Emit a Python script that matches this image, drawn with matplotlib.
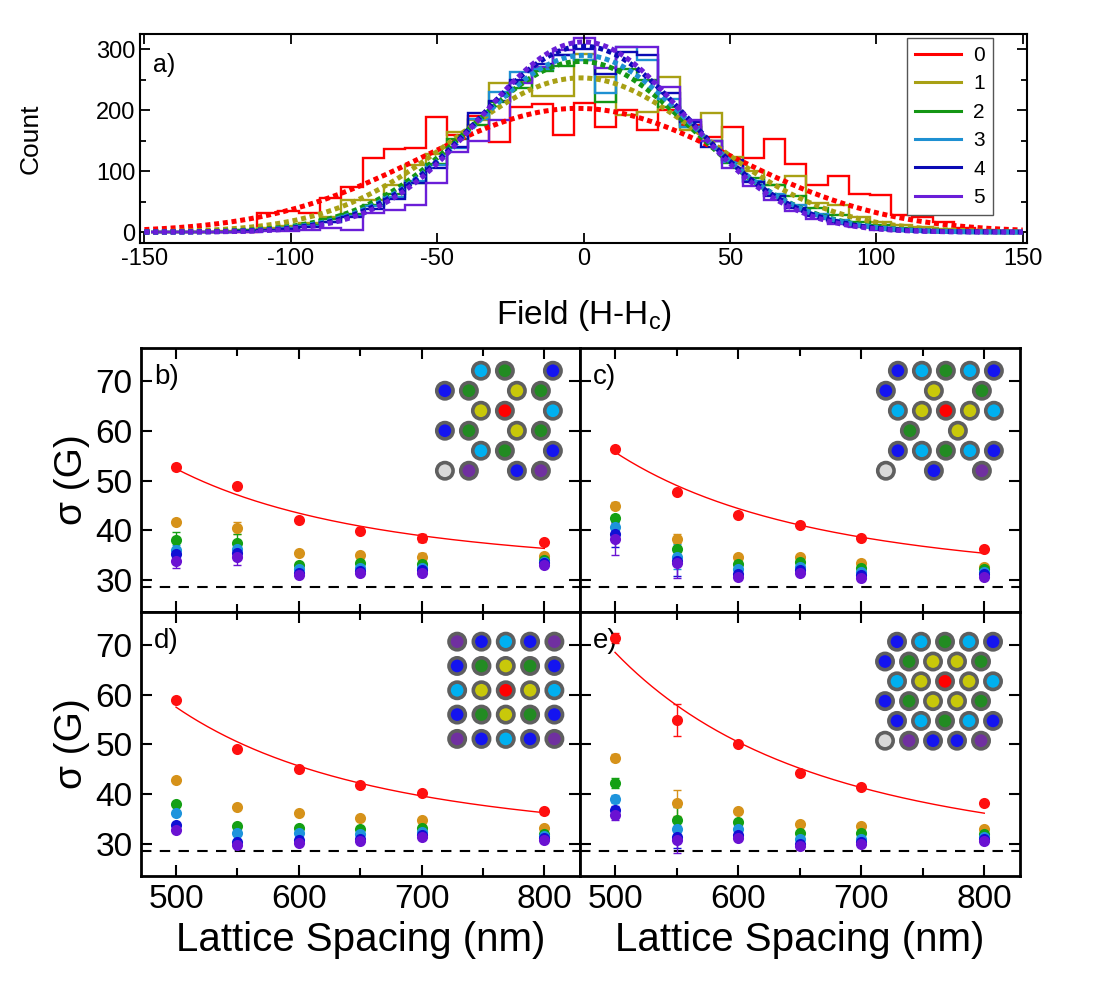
import numpy as np
import matplotlib
matplotlib.use("Agg")
import matplotlib.pyplot as plt
from matplotlib.lines import Line2D

plt.rcParams["font.family"] = ["Liberation Sans", "DejaVu Sans"]
plt.rcParams["mathtext.default"] = "regular"
plt.rcParams["axes.unicode_minus"] = False

# ---------------- panel a: field distributions ----------------
edges = np.linspace(-147.7, 148.3, 42)
counts = [
    [0, 0, 0, 0, 0, 31, 34, 31, 56, 74, 121, 136, 138, 189, 159, 190, 148, 205, 210, 160, 212,
     172, 201, 168, 200, 175, 156, 172, 121, 152, 111, 77, 92, 62, 61, 28, 24, 17, 6, 3, 2],
    [0, 0, 0, 2, 4, 6, 10, 15, 25, 52, 52, 78, 110, 128, 164, 184, 244, 246, 224, 224, 293,
     255, 192, 197, 255, 168, 195, 124, 100, 77, 92, 47, 45, 25, 17, 12, 8, 5, 2, 1, 0],
    [0, 0, 0, 0, 3, 4, 7, 12, 22, 30, 44, 62, 80, 112, 152, 176, 214, 236, 265, 272, 282,
     214, 268, 250, 205, 172, 150, 114, 88, 78, 60, 40, 28, 17, 12, 7, 4, 2, 1, 0, 0],
    [0, 0, 0, 0, 2, 3, 6, 10, 17, 26, 42, 58, 84, 110, 138, 185, 230, 262, 268, 290, 283,
     228, 304, 282, 218, 172, 150, 115, 84, 62, 44, 30, 20, 12, 7, 4, 2, 1, 0, 0, 0],
    [0, 0, 0, 0, 1, 3, 5, 9, 16, 24, 38, 55, 80, 105, 140, 195, 215, 250, 275, 290, 300,
     260, 295, 290, 228, 180, 140, 118, 82, 60, 40, 26, 16, 10, 6, 3, 2, 1, 0, 0, 0],
    [0, 0, 0, 0, 0, 1, 2, 4, 6, 3, 31, 36, 44, 80, 132, 150, 184, 245, 271, 298, 318,
     270, 304, 304, 238, 184, 150, 105, 75, 52, 35, 22, 14, 8, 4, 2, 1, 0, 0, 0, 0],
]
fit_amp = [203, 253, 280, 290, 305, 312]
fit_mu = [-2, -1, -1, 0, 0, 0]
fit_sig = [53, 43, 38, 37, 36, 35]
hist_labels = ["0", "1", "2", "3", "4", "5"]
hist_colors = ["#ff0000", "#a8a014", "#149614", "#1e90d2", "#0a0ab4", "#6a1ed8"]

# ---------------- panels b-e: sigma vs lattice spacing ----------------
spacing = [500, 550, 600, 650, 700, 800]
pt_colors = ["#ff0f0f", "#d6921a", "#14a014", "#1e94dc", "#1010d4", "#6a12d2"]

sig_b = [[52.7, 48.9, 42.1, 39.9, 38.5, 37.7],
         [41.7, 40.5, 35.4, 35.0, 34.7, 34.9],
         [38.1, 37.5, 33.0, 33.5, 33.2, 34.1],
         [36.1, 36.2, 32.2, 32.5, 32.5, 33.7],
         [35.2, 35.5, 31.5, 31.9, 32.1, 33.4],
         [33.9, 34.7, 31.0, 31.4, 31.4, 33.1]]
err_b = [[0.6, 0.3, 0.3, 0.3, 0.8, 0.3],
         [0.5, 1.2, 0.3, 0.3, 0.8, 0.3],
         [1.6, 1.7, 0.5, 0.5, 0.5, 0.3],
         [1.0, 1.0, 0.4, 0.4, 0.5, 0.3],
         [1.2, 1.2, 0.4, 0.4, 0.5, 0.3],
         [1.5, 1.6, 0.4, 0.4, 0.5, 0.3]]

sig_c = [[56.3, 47.7, 43.1, 41.0, 38.5, 36.2],
         [44.9, 38.3, 34.7, 34.7, 33.5, 32.7],
         [42.5, 36.3, 33.3, 33.7, 32.5, 32.2],
         [40.7, 34.7, 32.2, 32.7, 31.7, 31.7],
         [39.2, 33.9, 31.2, 32.1, 31.0, 31.2],
         [38.3, 33.5, 30.7, 31.5, 30.5, 30.7]]
err_c = [[0.3, 0.3, 0.3, 0.3, 0.3, 0.3],
         [0.7, 0.9, 0.3, 0.3, 0.6, 0.3],
         [0.6, 1.5, 0.3, 0.3, 0.3, 0.3],
         [1.5, 2.5, 0.4, 0.4, 0.4, 0.3],
         [2.5, 3.0, 0.4, 0.5, 0.4, 0.3],
         [3.2, 3.0, 0.4, 0.5, 0.4, 0.3]]

sig_d = [[58.9, 49.1, 45.0, 41.9, 40.2, 36.6],
         [42.9, 37.5, 36.3, 35.2, 34.9, 33.3],
         [38.1, 33.7, 33.2, 33.0, 33.2, 32.1],
         [36.2, 32.3, 32.3, 32.1, 32.5, 31.7],
         [33.8, 30.5, 30.9, 31.1, 31.8, 31.3],
         [32.9, 29.9, 30.3, 30.7, 31.4, 30.9]]
err_d = [[0.4, 0.3, 0.4, 0.3, 0.3, 0.5],
         [0.3, 0.3, 0.3, 0.3, 0.3, 0.3],
         [0.3, 0.3, 0.3, 0.3, 0.3, 0.3],
         [0.3, 0.3, 0.3, 0.3, 0.3, 0.3],
         [0.3, 0.3, 0.3, 0.3, 0.3, 0.3],
         [0.3, 0.3, 0.3, 0.3, 0.3, 0.3]]

sig_e = [[71.3, 55.0, 50.0, 44.3, 41.5, 38.3],
         [47.3, 38.2, 36.7, 34.1, 33.7, 33.0],
         [42.2, 34.9, 34.5, 32.2, 32.2, 32.0],
         [39.0, 33.0, 33.0, 31.1, 31.1, 31.5],
         [36.9, 31.5, 31.8, 30.1, 30.5, 31.1],
         [35.8, 30.9, 31.3, 29.7, 30.0, 30.6]]
err_e = [[1.0, 3.2, 0.4, 0.4, 0.4, 0.3],
         [0.7, 2.6, 0.3, 0.3, 0.3, 0.3],
         [1.0, 2.5, 0.3, 0.3, 0.3, 0.3],
         [0.8, 2.0, 0.3, 0.3, 0.3, 0.3],
         [0.8, 2.2, 0.3, 0.3, 0.3, 0.3],
         [1.0, 2.7, 0.3, 0.3, 0.3, 0.3]]

# fit sigma = a + b / d^3 for the nearest site
fit_a = [31.2, 28.84, 29.45, 25.77]
fit_b = [2.646e9, 3.357e9, 3.506e9, 5.341e9]
sigma0 = 28.6

# lattice sketches (one char per site; '.' = empty)
lat_b = ["...c.g...b", "b.g...y.g.", "...y.r...c", "b.g...y.g.", "...c.g...b", "w.p...b.p."]
lat_c = [".b.c.g.c.b", "b...y...g.", ".c.y.r.y.c", "..g...y...", ".b.c.g.c.b", "w...b...p."]
lat_d = ["pbcbp", "bgygb", "cyryc", "bgygb", "pbcbp"]
lat_e = [".b.c.g.c.b", "b.g.y.y.g.", ".c.y.r.y.c", "b.g.y.y.g.", ".b.c.g.c.b", "w.p.b.b.p."]
site_colors = {"r": "#ff0000", "y": "#c8c80a", "g": "#228b22", "c": "#00b0f0",
               "b": "#1414f0", "p": "#7030a0", "w": "#d9d9d9"}

fig = plt.figure(figsize=(11.14, 9.86), dpi=100)

# ---- top histogram panel ----
ax = fig.add_axes([0.1257, 0.7535, 0.7963, 0.212])
xf = np.linspace(-150, 150, 400)
for i in range(6):
    ax.stairs(counts[i], edges, color=hist_colors[i], lw=1.7)
for i in range(6):
    yf = fit_amp[i] * np.exp(-(xf - fit_mu[i]) ** 2 / (2 * fit_sig[i] ** 2))
    ax.plot(xf, yf, color=hist_colors[i], lw=3.6, dashes=(1, 0.75))
ax.set_xlim(-151.5, 151.5)
ax.set_ylim(-18, 325)
ax.set_xticks(np.arange(-150, 151, 50))
ax.set_yticks([0, 100, 200, 300])
ax.set_yticks([50, 150, 250], minor=True)
ax.tick_params(which="both", direction="in", top=True, right=True, width=1.3, labelsize=17)
ax.tick_params(which="major", length=7)
ax.tick_params(which="minor", length=4)
for s in ax.spines.values():
    s.set_linewidth(1.5)
ax.set_ylabel("Count", fontsize=19, labelpad=38)
ax.set_xlabel("Field (H-H$_c$)", fontsize=24, labelpad=20)
ax.text(0.015, 0.85, "a)", transform=ax.transAxes, fontsize=18, va="center")
handles = [Line2D([], [], color=c, lw=2.2) for c in hist_colors]
leg = ax.legend(handles, hist_labels, loc="upper right", bbox_to_anchor=(0.962, 0.982),
                borderaxespad=0, fontsize=15, fancybox=False, framealpha=1,
                edgecolor="#555555", handlelength=2.2, labelspacing=0.45, handletextpad=0.6)
leg.get_frame().set_linewidth(1.0)

# ---- bottom 2x2 panels ----
rects = [[0.1266, 0.3793, 0.394, 0.2677], [0.5206, 0.3793, 0.395, 0.2677],
         [0.1266, 0.1116, 0.394, 0.2677], [0.5206, 0.1116, 0.395, 0.2677]]
all_sig = [sig_b, sig_c, sig_d, sig_e]
all_err = [err_b, err_c, err_d, err_e]
tags = ["b)", "c)", "d)", "e)"]
lattices = [lat_b, lat_c, lat_d, lat_e]
inset_rects = [[0.665, 0.4898, 0.3007, 0.4697], [0.668, 0.4898, 0.300, 0.4697],
               [0.687, 0.464, 0.288, 0.479], [0.666, 0.4674, 0.300, 0.465]]
xd = np.linspace(500, 800, 200)

for p in range(4):
    ax = fig.add_axes(rects[p])
    ax.axhline(sigma0, color="black", lw=1.5, ls=(0, (5, 4)))
    ax.plot(xd, fit_a[p] + fit_b[p] / xd ** 3, color="#ff0000", lw=1.0)
    for j in range(6):
        ax.errorbar(spacing, all_sig[p][j], yerr=all_err[p][j], fmt="none",
                    ecolor=pt_colors[j], elinewidth=1.0, capsize=3, capthick=1.0,
                    zorder=3)
    for j in range(6):
        ax.plot(spacing, all_sig[p][j], "o", ms=8, color=pt_colors[j], mec="none",
                zorder=10 + j)
    ax.set_xlim(471.5, 829)
    ax.set_ylim(23.6, 76.6)
    ax.set_xticks([500, 600, 700, 800])
    ax.set_xticks([550, 650, 750], minor=True)
    ax.set_yticks([30, 40, 50, 60, 70])
    ax.tick_params(which="both", direction="in", top=True, right=True, width=1.5,
                   labelsize=24, pad=6)
    ax.tick_params(which="major", length=8)
    ax.tick_params(which="minor", length=6)
    for s in ax.spines.values():
        s.set_linewidth(2)
    if p % 2 == 1:
        ax.tick_params(labelleft=False)
    else:
        ax.set_ylabel("σ (G)", fontsize=28)
    if p < 2:
        ax.tick_params(labelbottom=False)
    else:
        ax.set_xlabel("Lattice Spacing (nm)", fontsize=29)
    ax.text(0.03, 0.89, tags[p], transform=ax.transAxes, fontsize=20, va="center")

    ins = ax.inset_axes(inset_rects[p])
    ins.axis("off")
    rows = lattices[p]
    if p == 2:
        ins.set_xlim(-0.6, 4.6)
        ins.set_ylim(4.6, -0.6)
    else:
        ins.set_xlim(-1, 10)
        ins.set_ylim(5.6, -0.6)
    xs, ys, cs = [], [], []
    for r, row in enumerate(rows):
        for m, ch in enumerate(row):
            if ch != ".":
                xs.append(m)
                ys.append(r)
                cs.append(site_colors[ch])
    ins.scatter(xs, ys, s=138, c=cs, edgecolors="#5f5f5f", linewidths=2.6, clip_on=False)

fig.savefig("out.png", dpi=100)
